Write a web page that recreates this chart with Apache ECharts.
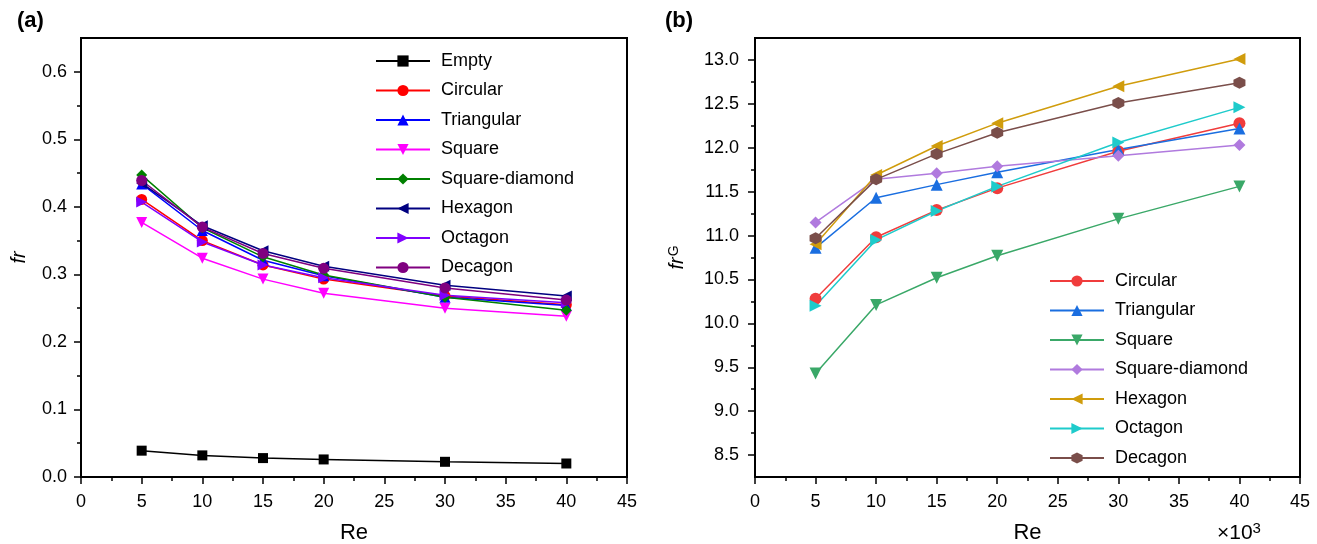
<!DOCTYPE html>
<html>
<head>
<meta charset="utf-8">
<title>fr and frG vs Re</title>
<script src="https://cdn.jsdelivr.net/npm/echarts@6/dist/echarts.min.js"></script>
<style>
  html, body { margin: 0; padding: 0; background: #fff; }
  #main { width: 1317px; height: 544px; }
</style>
</head>
<body>
<div id="main"></div>
<script>
// Re values (x axis, both panels)
const reValues = [5, 10, 15, 20, 30, 40]

// (a) fr
const frEmpty = [0.039, 0.032, 0.028, 0.026, 0.0225, 0.020]
const frCircular = [0.411, 0.350, 0.314, 0.293, 0.268, 0.255]
const frTriangular = [0.434, 0.365, 0.321, 0.298, 0.266, 0.254]
const frSquare = [0.377, 0.324, 0.293, 0.272, 0.250, 0.238]
const frSquareDiamond = [0.447, 0.369, 0.326, 0.299, 0.266, 0.247]
const frHexagon = [0.435, 0.372, 0.335, 0.312, 0.284, 0.268]
const frOctagon = [0.407, 0.348, 0.314, 0.295, 0.269, 0.258]
const frDecagon = [0.439, 0.370, 0.331, 0.309, 0.280, 0.262]
const frTicks = [0, 0.1, 0.2, 0.3, 0.4, 0.5, 0.6]

// (b) frG
const frgCircular = [10.28, 10.98, 11.29, 11.54, 11.96, 12.28]
const frgTriangular = [10.86, 11.43, 11.58, 11.72, 11.98, 12.22]
const frgSquare = [9.43, 10.21, 10.52, 10.77, 11.19, 11.56]
const frgSquareDiamond = [11.15, 11.64, 11.71, 11.79, 11.91, 12.03]
const frgHexagon = [10.90, 11.69, 12.02, 12.28, 12.70, 13.01]
const frgOctagon = [10.20, 10.95, 11.28, 11.56, 12.06, 12.46]
const frgDecagon = [10.97, 11.64, 11.93, 12.17, 12.51, 12.74]
const frgTicks = [8.5, 9.0, 9.5, 10.0, 10.5, 11.0, 11.5, 12.0, 12.5, 13.0]

const FONT = 'Liberation Sans, Arial, Helvetica, sans-serif'
const hexPath = 'path://M0,-10L8.66,-5L8.66,5L0,10L-8.66,5L-8.66,-5Z'
// panel (b) series get this prefix so the two legends don't mix up same-named series
const B_PREFIX = 'b:'

const toPairs = values => reValues.map((re, i) => [re, values[i]])
const midTicks = ticks => ticks.slice(1).map((t, i) => (t + ticks[i]) / 2)

// series of panel (a)
const seriesA = [
  { name: 'Empty', values: frEmpty, color: '#000000', symbol: 'rect', rotate: 0 },
  { name: 'Circular', values: frCircular, color: '#ff0000', symbol: 'circle', rotate: 0 },
  { name: 'Triangular', values: frTriangular, color: '#0000ff', symbol: 'triangle', rotate: 0 },
  { name: 'Square', values: frSquare, color: '#ff00ff', symbol: 'triangle', rotate: 180 },
  { name: 'Square-diamond', values: frSquareDiamond, color: '#008000', symbol: 'diamond', rotate: 0 },
  { name: 'Hexagon', values: frHexagon, color: '#000080', symbol: 'triangle', rotate: 90 },
  { name: 'Octagon', values: frOctagon, color: '#8000ff', symbol: 'triangle', rotate: -90 },
  { name: 'Decagon', values: frDecagon, color: '#800080', symbol: 'circle', rotate: 0 }
]
// series of panel (b)
const seriesB = [
  { name: 'Circular', values: frgCircular, color: '#f03c3c', symbol: 'circle', rotate: 0 },
  { name: 'Triangular', values: frgTriangular, color: '#1a6ee0', symbol: 'triangle', rotate: 0 },
  { name: 'Square', values: frgSquare, color: '#3aa868', symbol: 'triangle', rotate: 180 },
  { name: 'Square-diamond', values: frgSquareDiamond, color: '#b07ade', symbol: 'diamond', rotate: 0 },
  { name: 'Hexagon', values: frgHexagon, color: '#d09c0c', symbol: 'triangle', rotate: 90 },
  { name: 'Octagon', values: frgOctagon, color: '#1ecbcb', symbol: 'triangle', rotate: -90 },
  { name: 'Decagon', values: frgDecagon, color: '#7a4e4a', symbol: hexPath, rotate: 0 }
]

const makeSeries = (list, idx, size) => list.map(s => ({
  name: (idx ? B_PREFIX : '') + s.name,
  type: 'line',
  xAxisIndex: idx,
  yAxisIndex: idx,
  data: toPairs(s.values),
  symbol: s.symbol,
  symbolRotate: s.rotate,
  symbolSize: s.symbol === 'rect' ? size - 1 : size,
  showAllSymbol: true,
  color: s.color,
  lineStyle: { width: 1.5, color: s.color },
  itemStyle: { color: s.color },
  emphasis: { disabled: true },
  animation: false
}))

const xAxisBase = gridIndex => ({
  type: 'value',
  gridIndex: gridIndex,
  min: 0,
  max: 45,
  interval: 5,
  name: 'Re',
  nameLocation: 'middle',
  nameGap: 45,
  nameTextStyle: { fontSize: 22, color: '#000', fontFamily: FONT },
  axisLine: { show: true, onZero: false, lineStyle: { color: '#000', width: 2 } },
  axisTick: { show: true, inside: false, length: 7, lineStyle: { color: '#000', width: 1.5 } },
  minorTick: { show: true, splitNumber: 2, length: 4, lineStyle: { color: '#000', width: 1.5 } },
  axisLabel: { fontSize: 18, color: '#000', fontFamily: FONT, margin: 16 },
  splitLine: { show: false }
})

const yAxisMain = (gridIndex, min, max, ticks, name, gap, margin) => ({
  type: 'value',
  gridIndex: gridIndex,
  min: min,
  max: max,
  name: name,
  nameLocation: 'middle',
  nameGap: gap,
  nameRotate: 90,
  nameTextStyle: {
    fontSize: 20, color: '#000', fontFamily: FONT,
    rich: {
      i: { fontSize: 20, fontStyle: 'italic', fontFamily: FONT, color: '#000' },
      s: { fontSize: 14, fontFamily: FONT, color: '#000', padding: [0, 0, 6, 1] }
    }
  },
  axisLine: { show: true, onZero: false, lineStyle: { color: '#000', width: 2 } },
  axisTick: { show: true, inside: false, length: 7, customValues: ticks, lineStyle: { color: '#000', width: 1.5 } },
  axisLabel: {
    fontSize: 18, color: '#000', fontFamily: FONT, margin: margin,
    customValues: ticks,
    formatter: v => Number(v).toFixed(1)
  },
  splitLine: { show: false }
})

// extra axis only drawing the minor ticks
const yAxisMinor = (gridIndex, min, max, ticks) => ({
  type: 'value',
  gridIndex: gridIndex,
  min: min,
  max: max,
  position: 'left',
  axisLine: { show: false },
  axisTick: { show: true, inside: false, length: 4, customValues: midTicks(ticks), lineStyle: { color: '#000', width: 1.5 } },
  axisLabel: { show: false },
  splitLine: { show: false }
})

const legendBase = (left, top, names) => ({
  orient: 'vertical',
  left: left,
  top: top,
  padding: 0,
  itemWidth: 54,
  itemHeight: 14,
  itemGap: 9.5,
  data: names,
  selectedMode: false,
  formatter: name => name.replace(B_PREFIX, ''),
  textStyle: { fontSize: 18, color: '#000', fontFamily: FONT, lineHeight: 20, padding: [0, 0, 0, 6] }
})

let chartInstance = null

const initChart = () => {
  const chartDom = document.getElementById('main')
  chartInstance = echarts.init(chartDom, null, { renderer: 'canvas' })

  let option = {
    backgroundColor: '#fff',
    animation: false,
    grid: [
      { left: 81, top: 38, width: 546, height: 439, outerBoundsMode: 'none', containLabel: false, show: true, borderColor: '#000', borderWidth: 2, backgroundColor: 'transparent' },
      { left: 755, top: 38, width: 545, height: 439, outerBoundsMode: 'none', containLabel: false, show: true, borderColor: '#000', borderWidth: 2, backgroundColor: 'transparent' }
    ],
    xAxis: [xAxisBase(0), xAxisBase(1)],
    yAxis: [
      yAxisMain(0, 0, 0.65, frTicks, '{i|fr}', 52, 14),
      yAxisMain(1, 8.25, 13.25, frgTicks, '{i|fr}{s|G}', 68, 16),
      yAxisMinor(0, 0, 0.65, frTicks),
      yAxisMinor(1, 8.25, 13.25, frgTicks)
    ],
    legend: [
      legendBase(375, 51, seriesA.map(s => s.name)),
      legendBase(1049, 271, seriesB.map(s => B_PREFIX + s.name))
    ],
    graphic: [
      { type: 'text', left: 17, top: 10, style: { text: '(a)', fontSize: 22, fontWeight: 'bold', fontFamily: FONT, fill: '#000' } },
      { type: 'text', left: 665, top: 10, style: { text: '(b)', fontSize: 22, fontWeight: 'bold', fontFamily: FONT, fill: '#000' } },
      {
        type: 'text', left: 1217, top: 521,
        style: {
          text: '×10{sup|3}', fontSize: 21, fontFamily: FONT, fill: '#000',
          rich: { sup: { fontSize: 15, fontFamily: FONT, fill: '#000', padding: [0, 0, 10, 0] } }
        }
      }
    ],
    series: makeSeries(seriesA, 0, 11).concat(makeSeries(seriesB, 1, 12))
  }

  option && chartInstance.setOption(option)
}

initChart()
</script>
</body>
</html>
